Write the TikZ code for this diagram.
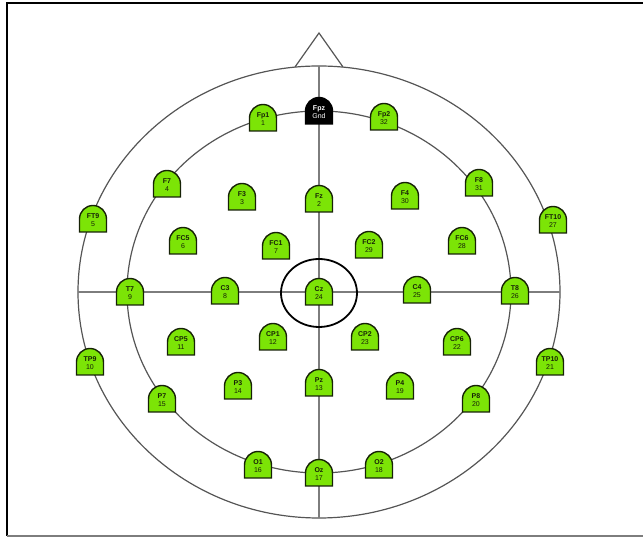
\documentclass[tikz,border=0pt]{standalone}
\usepackage{fontspec}
\setmainfont{Liberation Sans}

\definecolor{elgreen}{RGB}{124,228,6}
\definecolor{eledge}{RGB}{22,34,6}
\definecolor{headgray}{RGB}{85,85,85}
\definecolor{axisgray}{RGB}{125,125,125}

\tikzset{
  elbox/.style={fill=elgreen, draw=eledge, line width=1.4pt},
  gndbox/.style={fill=black, draw=black, line width=1.4pt},
  eltext/.style={inner sep=0pt, align=center, text=eledge, yshift=-1pt,
    font=\fontsize{7}{8.5}\selectfont},
  gndtext/.style={eltext, text=white},
  headline/.style={draw=headgray, line width=1.2pt},
  midline/.style={draw=axisgray, line width=1.6pt}
}

% electrode: [style] name, position, label, number
\newcommand{\electrode}[5][el]{%
  \filldraw[#1box, shift={(#3)}] (-13.5,-13) -- (-13.5,0)
    arc[start angle=180, end angle=0, radius=13.5] -- (13.5,-13) -- cycle;
  \node[#1text] (#2) at (#3) {\textbf{#4}\\#5};}

\begin{document}
\begin{tikzpicture}[x=1pt, y=1pt]
  \useasboundingbox (-319,-245) rectangle (324,292);
  % frame
  \draw[line width=1.6pt] (-312,-244) -- (-312,289) -- (324,289);
  \draw[axisgray, line width=1.6pt] (-312,-244) -- (324,-244);
  % head
  \draw[headline] (-24,225) -- (0,259) -- (24,225);
  \draw[headline] (0,0) ellipse[x radius=241, y radius=226];
  \draw[headline] (0,0) ellipse[x radius=192, y radius=181];
  \draw[midline] (0,226) -- (0,-226);
  \draw[midline] (-241,0) -- (241,0);
  \draw[line width=1.8pt] (0,-1) ellipse[x radius=38, y radius=34];

  % frontal
  \electrode{Fp1}{-56,174}{Fp1}{1}
  \electrode[gnd]{Fpz}{0,181}{Fpz}{Gnd}
  \electrode{Fp2}{65,175}{Fp2}{32}
  \electrode{F7}{-152,108}{F7}{4}
  \electrode{F3}{-77,95}{F3}{3}
  \electrode{Fz}{0,93}{Fz}{2}
  \electrode{F4}{86,96}{F4}{30}
  \electrode{F8}{160,109}{F8}{31}
  \electrode{FT9}{-226,73}{FT9}{5}
  \electrode{FC5}{-136,51}{FC5}{6}
  \electrode{FC1}{-43,46}{FC1}{7}
  \electrode{FC2}{50,47}{FC2}{29}
  \electrode{FC6}{143,51}{FC6}{28}
  \electrode{FT10}{234,72}{FT10}{27}
  % central
  \electrode{T7}{-189,0}{T7}{9}
  \electrode{C3}{-94,1}{C3}{8}
  \electrode{Cz}{0,0}{Cz}{24}
  \electrode{C4}{98,2}{C4}{25}
  \electrode{T8}{196,1}{T8}{26}
  % parietal
  \electrode{CP5}{-138,-50}{CP5}{11}
  \electrode{CP1}{-46,-45}{CP1}{12}
  \electrode{CP2}{46,-45}{CP2}{23}
  \electrode{CP6}{138,-50}{CP6}{22}
  \electrode{TP9}{-229,-70}{TP9}{10}
  \electrode{TP10}{231,-70}{TP10}{21}
  \electrode{P7}{-157,-107}{P7}{15}
  \electrode{P3}{-81,-94}{P3}{14}
  \electrode{Pz}{0,-91}{Pz}{13}
  \electrode{P4}{81,-94}{P4}{19}
  \electrode{P8}{157,-107}{P8}{20}
  % occipital
  \electrode{O1}{-61,-173}{O1}{16}
  \electrode{Oz}{0,-181}{Oz}{17}
  \electrode{O2}{60,-173}{O2}{18}
\end{tikzpicture}
\end{document}
